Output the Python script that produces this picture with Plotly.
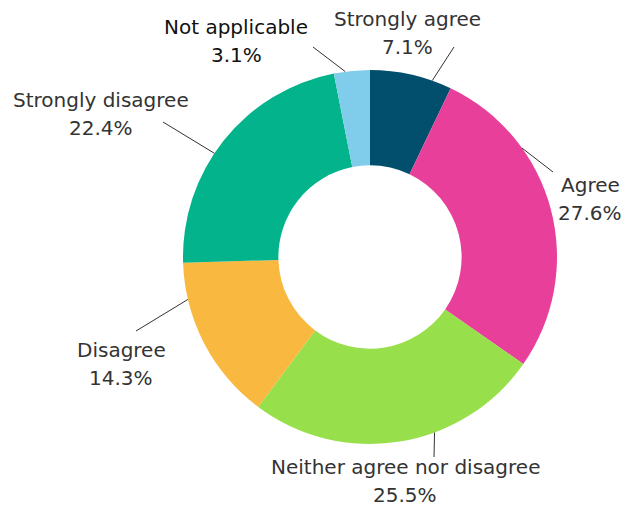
import math
import plotly.graph_objects as go

# ---- data ----
categories = ["Strongly agree", "Agree", "Neither agree nor disagree",
              "Disagree", "Strongly disagree", "Not applicable"]
values = [7.1, 27.6, 25.5, 14.3, 22.4, 3.1]
colors = ["#014f6c", "#e8409a", "#98e04b", "#f9b840", "#03b38b", "#80cdeb"]

# ---- layout (pixels) ----
W, H = 621, 506
CX, CY, R = 370, 257, 187
HOLE = 0.49
LINE_GAP = 28
FONT = "DejaVu Sans"
FONT_SIZE = 20

# where each leader line touches the ring (fraction inside its slice),
# where the line ends, and where the label block is centred
anchor_frac = [0.76, 0.29, 0.38, 0.78, 0.44, 0.32]
line_end = [(454, 47), (553, 172), (434, 457), (136, 331), (163, 122), (313, 47)]
label_pos = [(407, 33), (590, 199), (405, 481), (121, 364), (101, 114), (236, 41)]
label_color = ["#333333"] * 5 + ["#111111"]

def px(x):
    return x / W

def py(y):
    return 1 - y / H

fig = go.Figure(go.Pie(
    labels=categories,
    values=values,
    hole=HOLE,
    sort=False,
    direction="clockwise",
    rotation=0,
    marker=dict(colors=colors, line=dict(width=0)),
    textinfo="none",
    hoverinfo="label+percent",
    showlegend=False,
    domain=dict(x=[px(CX - R), px(CX + R)], y=[py(CY + R), py(CY - R)]),
))

total = sum(values)
cum = 0.0
shapes = []
annotations = []
for i, (cat, v) in enumerate(zip(categories, values)):
    a0 = cum / total * 360
    a1 = (cum + v) / total * 360
    cum += v
    ang = math.radians(a0 + anchor_frac[i] * (a1 - a0))
    sx = CX + R * math.sin(ang)
    sy = CY - R * math.cos(ang)
    ex, ey = line_end[i]
    shapes.append(dict(type="line", xref="paper", yref="paper",
                       x0=px(sx), y0=py(sy), x1=px(ex), y1=py(ey),
                       line=dict(color="#333333", width=1)))
    lx, ly = label_pos[i]
    pct = 100 * v / total
    for txt, dy in ((cat, -LINE_GAP / 2), (f"{pct:.1f}%", LINE_GAP / 2)):
        annotations.append(dict(
            x=px(lx), y=py(ly + dy), xref="paper", yref="paper",
            xanchor="center", yanchor="middle", align="center",
            showarrow=False,
            text=txt,
            font=dict(family=FONT, size=FONT_SIZE, color=label_color[i]),
        ))

fig.update_layout(
    width=W, height=H,
    margin=dict(l=0, r=0, t=0, b=0),
    paper_bgcolor="white",
    plot_bgcolor="white",
    shapes=shapes,
    annotations=annotations,
)

fig.write_html("out.html")
